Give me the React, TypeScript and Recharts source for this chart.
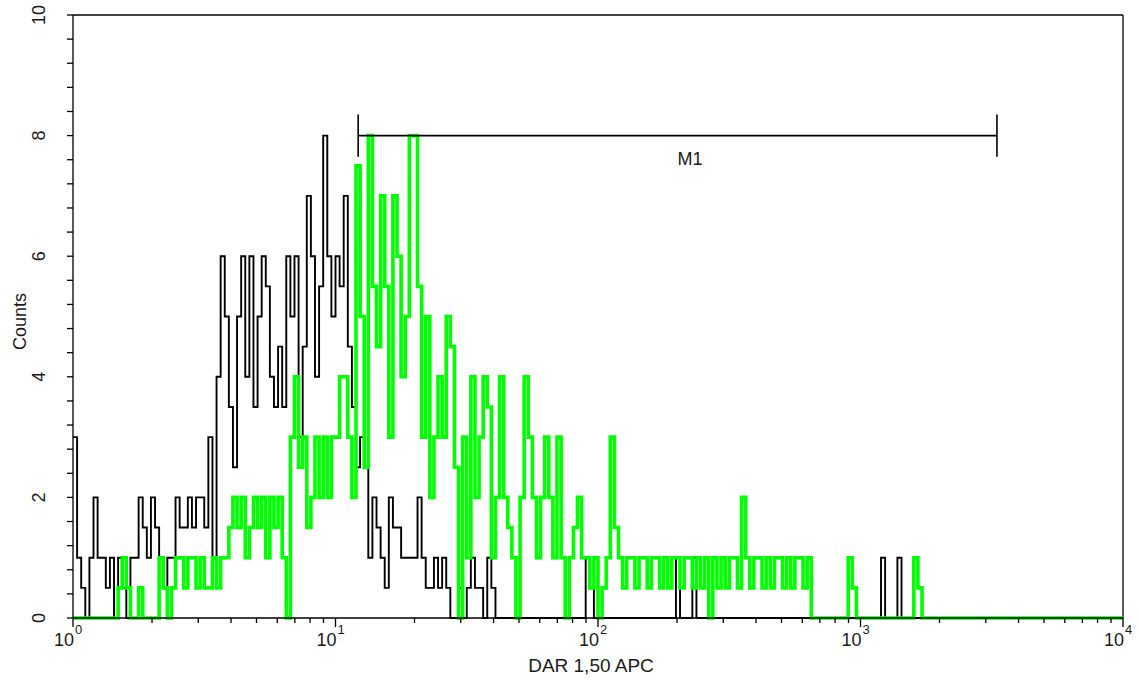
import React from 'react';
import { ComposedChart, Line, XAxis, YAxis, ReferenceLine, ReferenceDot } from 'recharts';

// 256 channels over 4 decades (64 channels per decade), counts per channel
const BINS_PER_DECADE = 64;

const blackCounts = [
  3, 1, 0.5, 0, 1, 2, 1, 1, 0.5, 1,
  0, 1, 0.5, 0, 1, 1, 2, 1.5, 1, 2,
  1.5, 1, 0.5, 1, 1, 2, 1.5, 1.5, 2, 1.5,
  2, 2, 1.5, 3, 1, 4, 6, 5, 3.5, 2.5,
  5, 6, 4, 6, 3.5, 5, 6, 5.5, 4, 3.5,
  4.5, 3.5, 6, 5, 6, 3, 4.5, 7, 6, 4,
  5.5, 8, 6, 5, 6, 5.5, 7, 4.5, 3.5, 2.5,
  3, 2.5, 1, 2, 1.5, 1, 0.5, 2, 1.5, 1.5,
  1, 1, 1, 1, 2, 1, 0.5, 0.5, 1, 0.5,
  1, 0.5, 0, 0, 0.5, 0, 0.5, 1, 0.5, 0.5,
  0, 1, 0.5, 0, 0, 0, 0, 0, 0, 0,
  0, 0, 0, 0, 0, 0, 0, 0, 0, 0,
  0, 0, 0, 0, 0, 1, 0.5, 0, 0, 0,
  0, 0, 0, 0, 0, 0, 0, 0, 0, 0,
  0, 0, 0, 0, 0, 0, 0, 1, 0, 0,
  0, 1, 0, 0, 0, 0, 0, 0, 0, 0,
  0, 0, 0, 0, 0, 0, 0, 0, 0, 0,
  0, 0, 0, 0, 0, 0, 0, 0, 0, 0,
  0, 0, 0, 0, 0, 0, 0, 0, 0, 0,
  0, 0, 0, 0, 0, 0, 0, 1, 0, 0,
  0, 1, 0, 0, 0, 0, 0, 0, 0, 0,
  0, 0, 0, 0, 0, 0, 0, 0, 0, 0,
  0, 0, 0, 0, 0, 0, 0, 0, 0, 0,
  0, 0, 0, 0, 0, 0, 0, 0, 0, 0,
  0, 0, 0, 0, 0, 0, 0, 0, 0, 0,
  0, 0, 0, 0, 0, 0,
];

const greenCounts = [
  0, 0, 0, 0, 0, 0, 0, 0, 0, 0,
  0, 0.5, 1, 0.5, 0, 0, 0.5, 0, 0, 0,
  0, 1, 0.5, 0, 0.5, 1, 1, 0.5, 1, 1,
  0.5, 1, 0.5, 0.5, 1, 0.5, 1, 1, 1.5, 2,
  1.5, 2, 1, 1.5, 2, 1.5, 2, 1, 2, 1.5,
  2, 1, 0, 3, 4, 2.5, 3, 1.5, 2, 3,
  2, 3, 2, 3, 3, 4, 4, 3, 2, 7.5,
  5, 2.5, 8, 5.5, 4.5, 7, 5.5, 3, 7, 6,
  4, 5, 8, 8, 5.5, 3, 5, 2, 3, 4,
  3, 5, 4.5, 2.5, 0, 3, 1, 4, 2, 3,
  4, 3.5, 1, 2, 4, 2, 1.5, 1, 0, 2,
  4, 3, 2, 1, 2, 3, 2, 1, 3, 1,
  0, 1, 1.5, 2, 1, 1, 0.5, 1, 0, 0.5,
  1, 3, 1.5, 1, 0.5, 1, 1, 0.5, 1, 1,
  0.5, 1, 1, 0.5, 1, 0.5, 1, 1, 0.5, 1,
  1, 0.5, 1, 0.5, 1, 0, 1, 0.5, 1, 0.5,
  1, 1, 0.5, 2, 1, 0.5, 1, 1, 0.5, 1,
  0.5, 1, 1, 0.5, 1, 0.5, 1, 1, 0.5, 1,
  0, 0, 0, 0, 0, 0, 0, 0, 0, 1,
  0.5, 0, 0, 0, 0, 0, 0, 0, 0, 0,
  0, 0, 0, 0, 0, 1, 0.5, 0, 0, 0,
  0, 0, 0, 0, 0, 0, 0, 0, 0, 0,
  0, 0, 0, 0, 0, 0, 0, 0, 0, 0,
  0, 0, 0, 0, 0, 0, 0, 0, 0, 0,
  0, 0, 0, 0, 0, 0, 0, 0, 0, 0,
  0, 0, 0, 0, 0, 0,
];

const xDecades = [1, 10, 100, 1000, 10000];
const xDecadeExponents = ['0', '1', '2', '3', '4'];
const xMinorMultipliers = [2, 3, 4, 5, 6, 7, 8, 9];
const yMajorTicks = [0, 2, 4, 6, 8, 10];
const yMinorStep = 0.4;
const xAxisTitle = 'DAR 1,50 APC';
const yAxisTitle = 'Counts';
const markerLabel = 'M1';
const markerStart = 12.2;
const markerEnd = 3310;
const markerLevel = 8;
const markerBarHalf = 0.35;
const markerLabelX = 224;
const markerLabelY = 7.62;

const data = blackCounts.map((b, i) => ({
  x: Math.pow(10, i / BINS_PER_DECADE),
  black: b,
  green: greenCounts[i],
}));
data.push({ x: 10000, black: 0, green: 0 });

const xTicks: number[] = [];
xDecades.forEach((d, i) => {
  xTicks.push(d);
  if (i < xDecades.length - 1) xMinorMultipliers.forEach((m) => xTicks.push(m * d));
});

const yTicks: number[] = [];
for (let k = 0; k <= 25; k++) yTicks.push(Number((k * yMinorStep).toFixed(1)));

const FONT = '"Liberation Sans", Arial, Helvetica, sans-serif';
const TEXT = '#1a1a1a';

const XTick = (props: any) => {
  const { x, y, payload } = props;
  const v = payload.value;
  const idx = xDecades.indexOf(v);
  const major = idx >= 0;
  return (
    <g>
      <line x1={x} x2={x} y1={y} y2={y + (major ? 9 : 5)} stroke="#000" strokeWidth={1.3} />
      {major && (
        <g>
          <text x={x + 1} y={y + 28} textAnchor="end" fontSize={18} fill={TEXT} fontFamily={FONT}>
            10
          </text>
          <text x={x + 2} y={y + 16} textAnchor="start" fontSize={13} fill={TEXT} fontFamily={FONT}>
            {xDecadeExponents[idx]}
          </text>
        </g>
      )}
    </g>
  );
};

const YTick = (props: any) => {
  const { x, y, payload } = props;
  const v = payload.value;
  const major = yMajorTicks.some((t) => Math.abs(t - v) < 1e-6);
  return (
    <g>
      <line x1={x} x2={x - 6} y1={y} y2={y} stroke="#000" strokeWidth={1.3} />
      {major && (
        <text
          transform={`translate(${x - 34},${y}) rotate(-90)`}
          textAnchor="middle"
          dominantBaseline="central"
          fontSize={18}
          fill={TEXT}
          fontFamily={FONT}
        >
          {v}
        </text>
      )}
    </g>
  );
};

const XTitle = (props: any) => {
  const vb = props.viewBox || {};
  const cx = (vb.x || 0) + (vb.width || 0) / 2;
  return (
    <text x={cx - 7} y={672} textAnchor="middle" fontSize={19} fill={TEXT} fontFamily={FONT}>
      {xAxisTitle}
    </text>
  );
};

const YTitle = (props: any) => {
  const vb = props.viewBox || {};
  const cy = (vb.y || 0) + (vb.height || 0) / 2;
  return (
    <text
      transform={`translate(20,${cy + 5}) rotate(-90)`}
      textAnchor="middle"
      dominantBaseline="central"
      fontSize={18}
      fill={TEXT}
      fontFamily={FONT}
    >
      {yAxisTitle}
    </text>
  );
};

export default function App() {
  return (
    <div style={{ position: 'absolute', left: 0, top: 0, width: 1139, height: 687, background: '#fff' }}>
      <ComposedChart
        width={1139}
        height={687}
        data={data}
        margin={{ top: 15, right: 16, left: 0, bottom: 0 }}
        style={{ fontFamily: FONT }}
      >
        <XAxis
          dataKey="x"
          type="number"
          scale="log"
          domain={[1, 10000]}
          allowDataOverflow
          ticks={xTicks}
          interval={0}
          height={69}
          tickSize={0}
          tickMargin={0}
          tickLine={false}
          axisLine={{ stroke: '#000', strokeWidth: 1.3 }}
          tick={<XTick />}
          label={<XTitle />}
        />
        <YAxis
          type="number"
          domain={[0, 10]}
          ticks={yTicks}
          interval={0}
          width={73}
          tickSize={0}
          tickMargin={0}
          tickLine={false}
          axisLine={{ stroke: '#000', strokeWidth: 1.3 }}
          tick={<YTick />}
          label={<YTitle />}
        />
        <ReferenceLine y={10} stroke="#000" strokeWidth={1.3} />
        <ReferenceLine x={10000} stroke="#000" strokeWidth={1.3} />
        <Line
          type="stepAfter"
          dataKey="black"
          stroke="#000"
          strokeWidth={1.9}
          dot={false}
          isAnimationActive={false}
        />
        <Line
          type="stepAfter"
          dataKey="green"
          stroke="#00ff00"
          strokeWidth={3.6}
          dot={false}
          isAnimationActive={false}
        />
        <ReferenceLine
          segment={[{ x: markerStart, y: markerLevel }, { x: markerEnd, y: markerLevel }]}
          stroke="#000"
          strokeWidth={1.6}
        />
        <ReferenceLine
          segment={[{ x: markerStart, y: markerLevel - markerBarHalf }, { x: markerStart, y: markerLevel + markerBarHalf }]}
          stroke="#000"
          strokeWidth={1.6}
        />
        <ReferenceLine
          segment={[{ x: markerEnd, y: markerLevel - markerBarHalf }, { x: markerEnd, y: markerLevel + markerBarHalf }]}
          stroke="#000"
          strokeWidth={1.6}
        />
        <ReferenceDot
          x={markerLabelX}
          y={markerLabelY}
          r={0}
          fill="none"
          stroke="none"
          label={{ value: markerLabel, position: 'center', fontSize: 18, fill: TEXT, fontFamily: FONT }}
        />
      </ComposedChart>
    </div>
  );
}
